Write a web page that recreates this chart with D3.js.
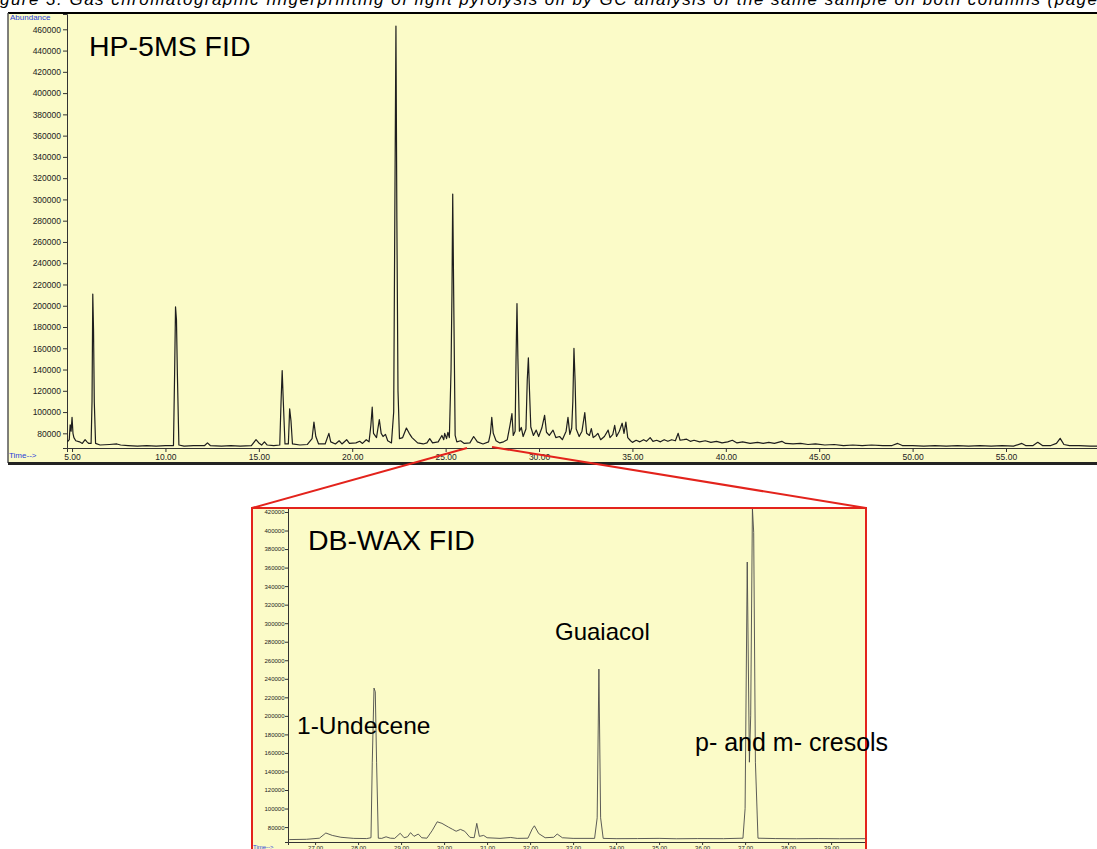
<!DOCTYPE html>
<html>
<head>
<meta charset="utf-8">
<script src="https://cdn.jsdelivr.net/npm/d3@7"></script>
<style>
  body { margin: 0; background: #fff; }
  svg { display: block; }
  text { font-family: Arial, "Liberation Sans", sans-serif; }
</style>
</head>
<body>
<div id="chart"></div>
<script>
// HP-5MS FID trace: [retention time (min), abundance]
var hpTrace = [
  [4.75, 72000], [4.85, 74000], [4.9, 88000], [4.95, 82000], [5.0, 95000], [5.05, 80000],
  [5.1, 76000], [5.2, 73000], [5.4, 72000], [5.55, 70500], [5.7, 74000], [5.8, 72000],
  [5.9, 70500], [6.02, 70500], [6.07, 110000], [6.11, 211000], [6.15, 178000], [6.19, 110000],
  [6.26, 70500], [6.5, 69000], [7.0, 69500], [7.4, 70000], [7.6, 69000], [8.0, 68500],
  [8.5, 68000], [9.0, 68500], [9.5, 68000], [10.0, 68500], [10.43, 68500], [10.49, 135000],
  [10.54, 199000], [10.59, 187000], [10.64, 135000], [10.72, 69000], [11.0, 68000], [11.5, 68500],
  [12.1, 68500], [12.25, 71000], [12.4, 68500], [13.0, 68000], [13.5, 68500], [14.0, 68000],
  [14.6, 68500], [14.85, 74000], [15.0, 71000], [15.15, 69000], [15.3, 72000], [15.45, 69000],
  [15.8, 68500], [16.12, 69000], [16.19, 110000], [16.25, 139000], [16.31, 110000], [16.4, 70000],
  [16.58, 70000], [16.65, 103000], [16.72, 92000], [16.8, 70000], [17.2, 69000], [17.6, 69500],
  [17.85, 75000], [17.95, 90500], [18.05, 77000], [18.2, 70000], [18.55, 70000], [18.75, 80000],
  [18.85, 72000], [19.1, 70000], [19.3, 73000], [19.45, 70000], [19.7, 74000], [19.85, 70500],
  [20.2, 71000], [20.4, 72500], [20.55, 70500], [20.75, 74000], [20.9, 72000], [21.0, 88000],
  [21.07, 104600], [21.14, 80000], [21.3, 76000], [21.45, 93000], [21.55, 80000], [21.65, 77000],
  [21.78, 79000], [21.9, 73000], [22.1, 71000], [22.22, 100000], [22.29, 315000], [22.34, 463000],
  [22.39, 280000], [22.45, 120000], [22.53, 75000], [22.7, 76000], [22.9, 85000], [23.05, 80000],
  [23.2, 76000], [23.5, 71000], [23.8, 70000], [24.0, 71000], [24.15, 75000], [24.3, 71000],
  [24.6, 72000], [24.8, 78000], [24.9, 74000], [24.95, 80000], [25.05, 75000], [25.12, 81000],
  [25.2, 76000], [25.29, 140000], [25.34, 213000], [25.38, 305000], [25.43, 213000], [25.51, 78000],
  [25.6, 72000], [25.8, 73000], [26.0, 70500], [26.3, 71000], [26.5, 77000], [26.7, 72000],
  [27.0, 70000], [27.3, 72000], [27.4, 80000], [27.47, 95000], [27.55, 80000], [27.7, 73000],
  [27.9, 71000], [28.1, 72000], [28.3, 74000], [28.45, 88000], [28.55, 98500], [28.62, 78000],
  [28.72, 82000], [28.77, 150000], [28.82, 202000], [28.87, 150000], [28.95, 82000], [29.05, 85500],
  [29.15, 77000], [29.3, 84000], [29.37, 130000], [29.43, 151000], [29.49, 120000], [29.56, 86000],
  [29.7, 78000], [29.85, 83000], [29.98, 77000], [30.15, 85000], [30.3, 97000], [30.4, 81000],
  [30.55, 78000], [30.75, 83000], [30.9, 76000], [31.1, 77000], [31.25, 74000], [31.45, 82000],
  [31.55, 95000], [31.65, 79000], [31.75, 85000], [31.81, 110000], [31.87, 160000], [31.93, 130000],
  [31.99, 84000], [32.15, 77000], [32.3, 82000], [32.45, 99500], [32.55, 80000], [32.7, 78000],
  [32.8, 84500], [32.9, 76000], [33.05, 78000], [33.15, 80000], [33.3, 74000], [33.5, 77000],
  [33.7, 83000], [33.8, 76000], [33.95, 79000], [34.05, 87500], [34.15, 77000], [34.3, 82000],
  [34.45, 89500], [34.55, 80000], [34.65, 90500], [34.75, 76000], [34.9, 73000], [35.0, 71500],
  [35.2, 73500], [35.4, 72000], [35.6, 74000], [35.75, 72500], [35.95, 76000], [36.1, 72500],
  [36.3, 73500], [36.5, 72000], [36.7, 74000], [36.9, 72500], [37.1, 74000], [37.3, 73000],
  [37.45, 80000], [37.55, 73500], [37.75, 74000], [37.9, 74500], [38.1, 72500], [38.3, 73500],
  [38.6, 72000], [38.9, 73000], [39.2, 71500], [39.5, 72500], [39.8, 71000], [40.1, 72000],
  [40.35, 73500], [40.6, 71000], [40.9, 72000], [41.3, 70500], [41.7, 71500], [42.0, 70500],
  [42.3, 71500], [42.6, 70500], [43.0, 72500], [43.2, 70500], [43.6, 70000], [44.0, 70500],
  [44.4, 69500], [44.8, 70000], [45.3, 69000], [45.8, 69500], [46.3, 68500], [46.8, 69000],
  [47.3, 68500], [47.8, 69000], [48.4, 68500], [48.9, 68500], [49.2, 70500], [49.45, 68500],
  [50.0, 68500], [50.6, 68000], [51.2, 68500], [51.8, 68000], [52.4, 68500], [53.0, 68000],
  [53.6, 68500], [54.2, 68000], [54.8, 68500], [55.4, 68000], [55.85, 70500], [56.05, 68500],
  [56.45, 68500], [56.7, 71500], [56.95, 68500], [57.4, 68500], [57.7, 70500], [57.9, 75300],
  [58.1, 69500], [58.4, 68500], [58.9, 68500], [59.5, 68000], [60.3, 68000]
];

// DB-WAX FID trace (zoomed window): [retention time (min), abundance]
var wxTrace = [
  [26.4, 66500], [26.8, 66800], [27.1, 68000], [27.25, 73600], [27.4, 71000], [27.6, 69000],
  [27.9, 67800], [28.2, 67600], [28.3, 68500], [28.33, 150000], [28.37, 230000], [28.4, 226000],
  [28.43, 150000], [28.47, 68000], [28.55, 67800], [28.65, 69500], [28.75, 68000], [28.85, 67800],
  [28.98, 73300], [29.07, 68500], [29.15, 69500], [29.22, 74000], [29.3, 70000], [29.4, 72500],
  [29.48, 68500], [29.6, 68000], [29.72, 76000], [29.84, 85700], [29.95, 84000], [30.1, 80000],
  [30.2, 77500], [30.28, 75500], [30.38, 77500], [30.48, 75500], [30.6, 69000], [30.7, 68500],
  [30.76, 84000], [30.82, 70000], [30.92, 71000], [31.0, 68500], [31.3, 67800], [31.55, 68800],
  [31.7, 67800], [31.95, 68000], [32.05, 78000], [32.1, 81400], [32.2, 73000], [32.35, 68500],
  [32.55, 69000], [32.63, 72500], [32.75, 68500], [33.0, 67800], [33.5, 67800], [33.56, 90000],
  [33.6, 250500], [33.64, 90000], [33.7, 67800], [34.0, 67500], [34.5, 67600], [35.0, 67800],
  [35.4, 67400], [35.9, 67600], [36.5, 67500], [36.95, 68000], [37.0, 100000], [37.05, 366000],
  [37.1, 150000], [37.13, 200000], [37.17, 424000], [37.2, 398000], [37.24, 150000], [37.3, 68000],
  [37.7, 67600], [38.2, 67400], [38.7, 67600], [39.2, 67400], [39.8, 67500]
];

var hpXTicks = [5, 10, 15, 20, 25, 30, 35, 40, 45, 50, 55];
var hpYTicks = [80000, 100000, 120000, 140000, 160000, 180000, 200000, 220000, 240000,
                260000, 280000, 300000, 320000, 340000, 360000, 380000, 400000, 420000,
                440000, 460000];
var wxXTicks = [27, 28, 29, 30, 31, 32, 33, 34, 35, 36, 37, 38, 39];
var wxYTicks = [80000, 100000, 120000, 140000, 160000, 180000, 200000, 220000, 240000,
                260000, 280000, 300000, 320000, 340000, 360000, 380000, 400000, 420000];

var titles = ['HP-5MS FID', 'DB-WAX FID'];
var peakNames = ['1-Undecene', 'Guaiacol', 'p- and m- cresols'];
// NOTE: the reference only shows the bottom half of this caption line (cut off by the
// image edge), so these words are a best guess, not a transcription of the original.
var captionText = 'gure 3. Gas chromatographic fingerprinting of light pyrolysis oil by GC analysis of the same sample on both columns (page';

var chromChart = {

  config: {
    width:      1097,
    height:     849,
    paper:      '#fbfbc8',
    trace:      '#1e1e1e',
    axisBlue:   '#2a3fd8',
    red:        '#e3231c'
  },

  display: function(el) {
    this.svg = d3.select(el).append('svg')
                 .attr('width', this.config.width)
                 .attr('height', this.config.height);

    this.createCaption();
    this.createTopPanel();
    this.createBottomPanel();
    this.createZoomLines();
  },

  // caption line of the page, cut off by the top edge
  createCaption: function() {
    this.svg.append('text')
        .attr('x', 0).attr('y', 5)
        .attr('font-family', '"Liberation Serif", "DejaVu Serif", serif')
        .attr('font-style', 'italic')
        .attr('font-size', 17)
        .attr('textLength', 1097)
        .attr('fill', '#000')
        .text(captionText);
  },

  createTopPanel: function() {
    var c = this.config;
    var g = this.svg.append('g');

    g.append('rect').attr('x', 8).attr('y', 13).attr('width', 1100).attr('height', 450)
     .attr('fill', c.paper);
    g.append('line').attr('x1', 8).attr('x2', 1097).attr('y1', 13).attr('y2', 13)
     .attr('stroke', '#000').attr('stroke-width', 2);
    g.append('line').attr('x1', 8).attr('x2', 8).attr('y1', 13).attr('y2', 463)
     .attr('stroke', '#555').attr('stroke-width', 1.5);
    g.append('line').attr('x1', 8).attr('x2', 1097).attr('y1', 463.5).attr('y2', 463.5)
     .attr('stroke', '#222').attr('stroke-width', 3);

    this.xTop = d3.scaleLinear().domain([4.73, 60.3]).range([67, 1105]);
    this.yTop = d3.scaleLinear().domain([66200, 474400]).range([448, 14]);

    this.drawAxes(g, this.xTop, this.yTop, {
      xTicks: hpXTicks, yTicks: hpYTicks, xMinor: d3.range(5, 61, 1), yMinor: d3.range(68000, 472001, 4000),
      fontSize: 8.5, majorLen: 4, minorLen: 2, labelGap: 2
    });

    g.append('text').attr('x', 10).attr('y', 20).attr('font-size', 8)
     .attr('fill', c.axisBlue).text('Abundance');
    g.append('text').attr('x', 9).attr('y', 458).attr('font-size', 8)
     .attr('fill', c.axisBlue).text('Time-->');

    g.append('path').datum(hpTrace)
     .attr('fill', 'none').attr('stroke', c.trace).attr('stroke-width', 1.2)
     .attr('stroke-linejoin', 'round')
     .attr('d', d3.line().x((d) => this.xTop(d[0])).y((d) => this.yTop(d[1])));

    g.append('text').attr('x', 89).attr('y', 56).attr('font-size', 28.5)
     .attr('fill', '#000').text(titles[0]);
  },

  createBottomPanel: function() {
    var c = this.config;
    var g = this.svg.append('g');

    g.append('rect').attr('x', 252).attr('y', 508).attr('width', 614).attr('height', 350)
     .attr('fill', c.paper);

    this.xBot = d3.scaleLinear().domain([26.37, 39.8]).range([288, 865.5]);
    this.yBot = d3.scaleLinear().domain([63900, 424300]).range([842, 508]);

    this.drawAxes(g, this.xBot, this.yBot, {
      xTicks: wxXTicks, yTicks: wxYTicks, xMinor: d3.range(26.4, 39.81, 0.2), yMinor: d3.range(64000, 424001, 4000),
      fontSize: 6, majorLen: 3, minorLen: 1.5, labelGap: 0.5
    });

    g.append('text').attr('x', 253).attr('y', 849).attr('font-size', 6)
     .attr('fill', c.axisBlue).text('Time-->');

    g.append('path').datum(wxTrace)
     .attr('fill', 'none').attr('stroke', '#4a4a4a').attr('stroke-width', 0.9)
     .attr('stroke-linejoin', 'round')
     .attr('d', d3.line().x((d) => this.xBot(d[0])).y((d) => this.yBot(d[1])));

    // red zoom frame goes under the labels, "cresols" runs past its right edge
    g.append('rect').attr('x', 252).attr('y', 508).attr('width', 614).attr('height', 360)
     .attr('fill', 'none').attr('stroke', c.red).attr('stroke-width', 2);

    g.append('text').attr('x', 308).attr('y', 550).attr('font-size', 28.5)
     .attr('fill', '#000').text(titles[1]);
    g.append('text').attr('x', 297).attr('y', 734).attr('font-size', 24.5)
     .attr('fill', '#000').text(peakNames[0]);
    g.append('text').attr('x', 555).attr('y', 640).attr('font-size', 24)
     .attr('fill', '#000').text(peakNames[1]);
    g.append('text').attr('x', 695).attr('y', 751).attr('font-size', 25)
     .attr('fill', '#000').text(peakNames[2]);
  },

  // draws y axis on the left and x axis at the bottom of the scales' ranges
  drawAxes: function(g, x, y, o) {
    var x0 = x.range()[0], yb = y.range()[0];

    var ya = g.append('g').attr('transform', 'translate(' + x0 + ',0)');
    ya.call(d3.axisLeft(y).tickValues(o.yMinor).tickSize(o.minorLen).tickFormat(''));
    ya.call(d3.axisLeft(y).tickValues(o.yTicks).tickSize(o.majorLen).tickPadding(o.labelGap)
                          .tickFormat(d3.format('d')));

    var xa = g.append('g').attr('transform', 'translate(0,' + yb + ')');
    xa.call(d3.axisBottom(x).tickValues(o.xMinor).tickSize(o.minorLen).tickFormat(''));
    xa.call(d3.axisBottom(x).tickValues(o.xTicks).tickSize(o.majorLen).tickPadding(o.labelGap)
                            .tickFormat(d3.format('.2f')));

    g.selectAll('.domain').attr('stroke', '#333');
    g.selectAll('.tick line').attr('stroke', '#333');
    g.selectAll('.tick text').attr('font-size', o.fontSize).attr('fill', '#222')
     .attr('font-family', 'Arial, "Liberation Sans", sans-serif');
  },

  createZoomLines: function() {
    var c = this.config;
    this.svg.append('line').attr('x1', 467).attr('y1', 448).attr('x2', 252).attr('y2', 508)
        .attr('stroke', c.red).attr('stroke-width', 2);
    this.svg.append('line').attr('x1', 492).attr('y1', 447).attr('x2', 866).attr('y2', 508)
        .attr('stroke', c.red).attr('stroke-width', 2);
  }

};

chromChart.display('#chart');
</script>
</body>
</html>
